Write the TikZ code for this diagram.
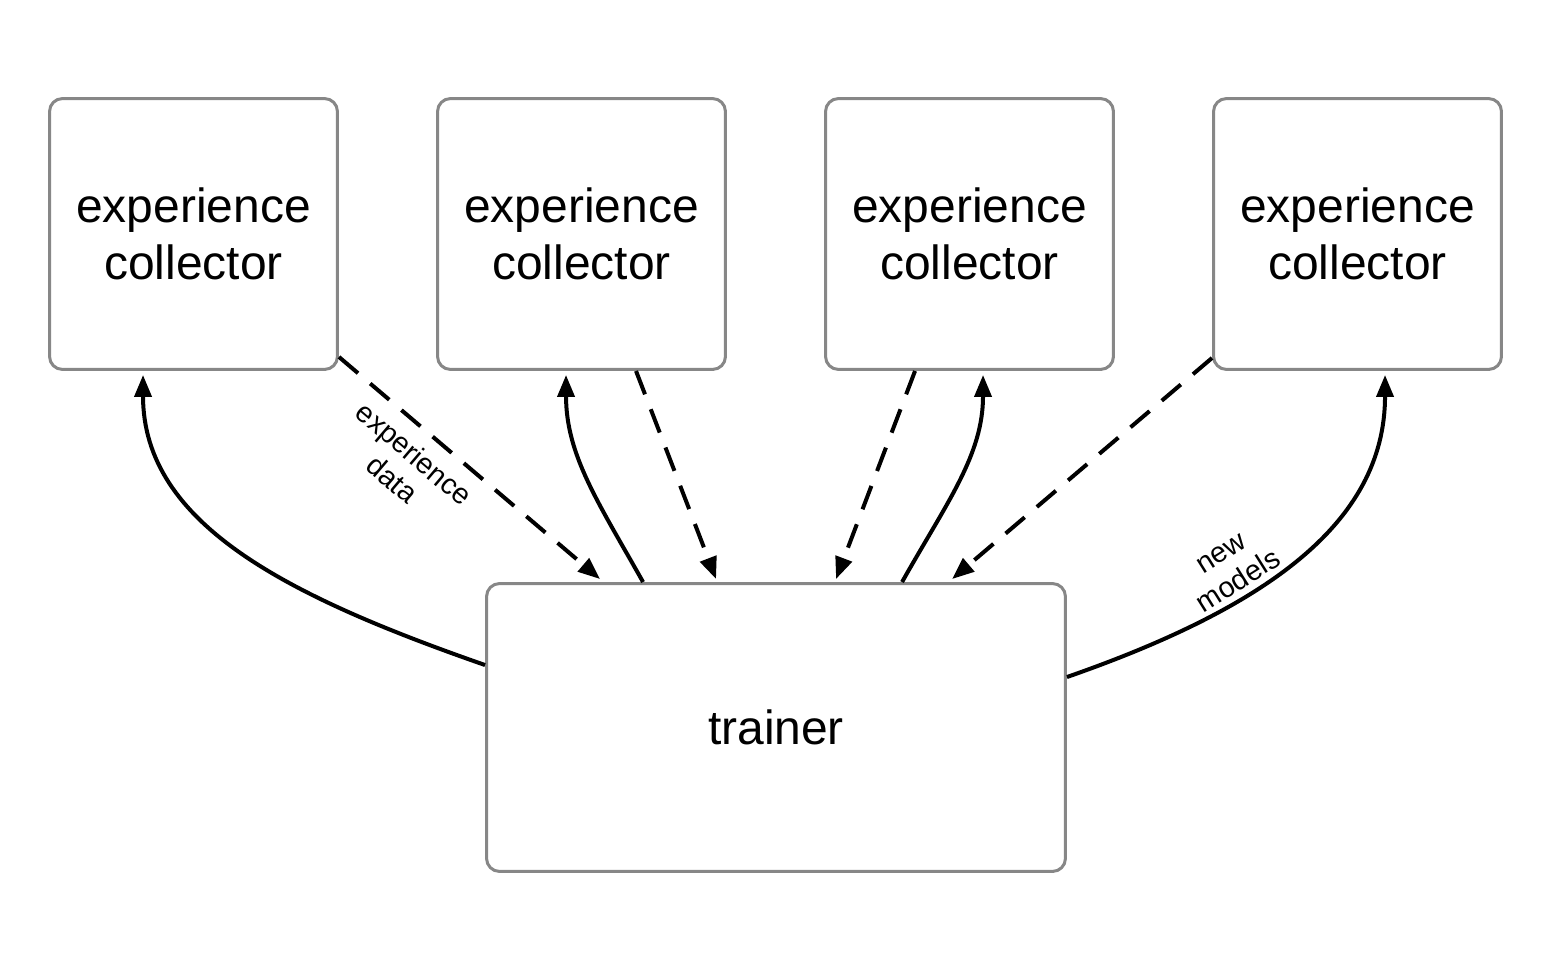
\documentclass[tikz,border=0pt]{standalone}
\usepackage{fontspec}
\setmainfont{Liberation Sans}
\usetikzlibrary{arrows.meta,calc}
\begin{document}
\begin{tikzpicture}[x=0.02cm,y=-0.02cm,
  box/.style={draw=black!47,line width=0.06cm,rounded corners=0.26cm,inner sep=0pt,
    align=center,font=\fontsize{27.3}{32.4}\selectfont},
  cbox/.style={box,minimum width=5.76cm,minimum height=5.42cm},
  tbox/.style={box,minimum width=11.58cm,minimum height=5.76cm},
  conn/.style={line width=0.08cm,-{Triangle[length=0.44cm,width=0.34cm]}},
  dconn/.style={conn,dash pattern=on 0.5cm off 0.32cm},
  lbl/.style={font=\fontsize{16.4}{19}\selectfont,align=center,sloped}]
\useasboundingbox (0,0) rectangle (1552,970);
\node[cbox] (b1) at (193.5,234) {experience\\collector};
\node[cbox] (b2) at (581.5,234) {experience\\collector};
\node[cbox] (b3) at (969.5,234) {experience\\collector};
\node[cbox] (b4) at (1357.5,234) {experience\\collector};
\node[tbox] (t) at (776,727.5) {trainer};
% solid: trainer -> collectors
\draw[conn] ($(t.north west)+(0,83)$) .. controls +(-195,-68) and +(0,150) .. ($(b1.south west)+(95,4)$);
\draw[conn] ($(t.north west)+(158,0)$) .. controls +(-45,-80) and +(0,80) .. ($(b2.south west)+(130,4)$);
\draw[conn] ($(t.north west)+(417,0)$) .. controls +(45,-80) and +(0,80) .. ($(b3.south west)+(159,4)$);
\draw[conn] ($(t.north east)+(0,95)$) .. controls +(195,-68) and +(0,150) .. ($(b4.south west)+(173,4)$)
  node[lbl,pos=0.36,above,inner sep=3pt] {new\\models};
% dashed: collectors -> trainer
\draw[dconn] ($(b1.south east)+(0,-14)$) -- ($(t.north west)+(115,-3)$)
  node[lbl,pos=0.35,below,inner sep=7pt] {experience\\data};
\draw[dconn] ($(b2.south west)+(200,0)$) -- ($(t.north west)+(231,-3)$);
\draw[dconn] ($(b3.south west)+(91,0)$) -- ($(t.north west)+(351,-3)$);
\draw[dconn] ($(b4.south west)+(0,-13)$) -- ($(t.north west)+(467,-3)$);
\end{tikzpicture}
\end{document}
